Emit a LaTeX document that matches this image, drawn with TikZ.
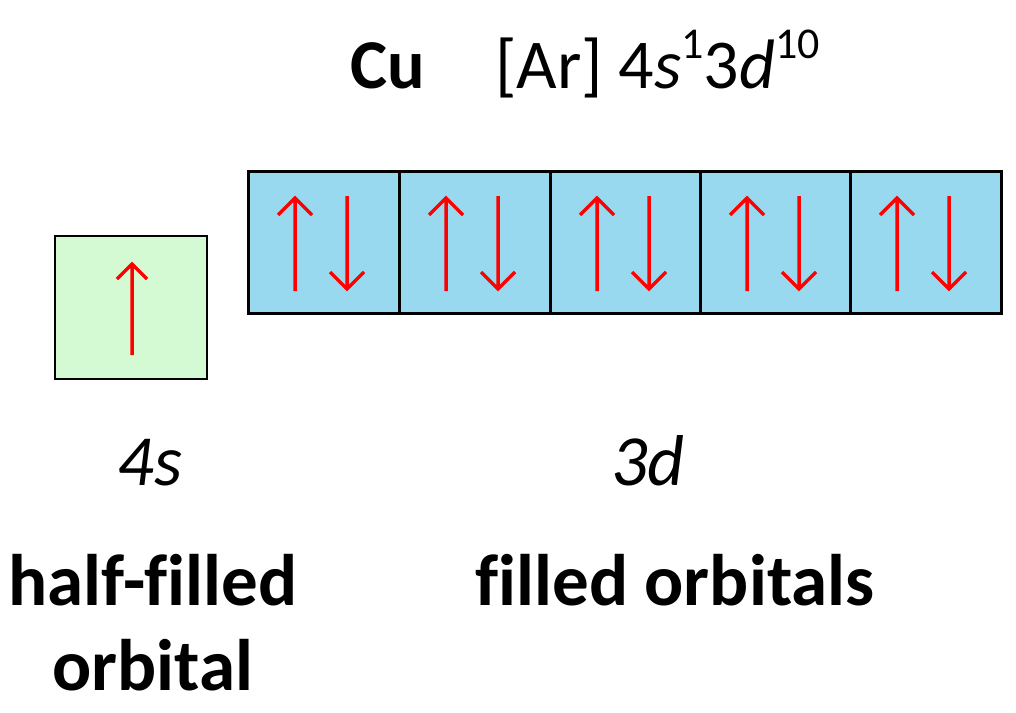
\documentclass[tikz,border=0pt]{standalone}
\usepackage{fontspec}
\setmainfont{Carlito}[Ligatures=NoCommon]
\newcommand{\supx}[1]{\raisebox{0.42em}{\fontsize{44}{50}\selectfont #1}}
\begin{document}
\begin{tikzpicture}[x=1pt,y=-1pt,
  orb/.style={draw=black,line width=2.5pt},
  spin/.style={draw=red,line width=3.5pt},
  big/.style={inner sep=0pt,anchor=base}]
\useasboundingbox (0,0) rectangle (1016,712);
\fill[white] (0,0) rectangle (1016,712);
\node[orb,fill={rgb,255:red,212;green,250;blue,212},minimum width=152pt,minimum height=143pt,inner sep=0pt] (s) at (131,307.5) {};
\draw[spin] (132,355) -- (132,264) (117,279) -- (132,264) -- (147,279);
\foreach \i/\x in {1/247,2/398,3/549,4/699,5/849}{
  \node[orb,fill={rgb,255:red,153;green,217;blue,240},minimum width=151pt,minimum height=142pt,inner sep=0pt,anchor=north west] (d\i) at (\x,170) {};
  \draw[spin] (\x+48,291) -- (\x+48,198) (\x+31,215) -- (\x+48,198) -- (\x+65,215);
  \draw[spin] (\x+100,196) -- (\x+100,289) (\x+83,272) -- (\x+100,289) -- (\x+117,272);
}
\node[big,font=\fontsize{70}{70}\selectfont\bfseries] (cu) at (388,88) {Cu};
\node[big,font=\fontsize{70}{70}\selectfont,anchor=base west] (cfg) at (495,88) {[Ar] 4\textit{s}\supx{1}3\textit{d}\supx{10}};
\node[big,font=\fontsize{72}{72}\selectfont\itshape] (l4s) at (150,485) {4s};
\node[big,font=\fontsize{72}{72}\selectfont\itshape] (l3d) at (648,485) {3d};
\node[big,font=\fontsize{73}{73}\selectfont\bfseries] (hf) at (153,605) {half-filled};
\node[big,font=\fontsize{73}{73}\selectfont\bfseries] (ob) at (153,690) {orbital};
\node[big,font=\fontsize{73}{73}\selectfont\bfseries] (fo) at (675,605) {filled orbitals};
\end{tikzpicture}
\end{document}
